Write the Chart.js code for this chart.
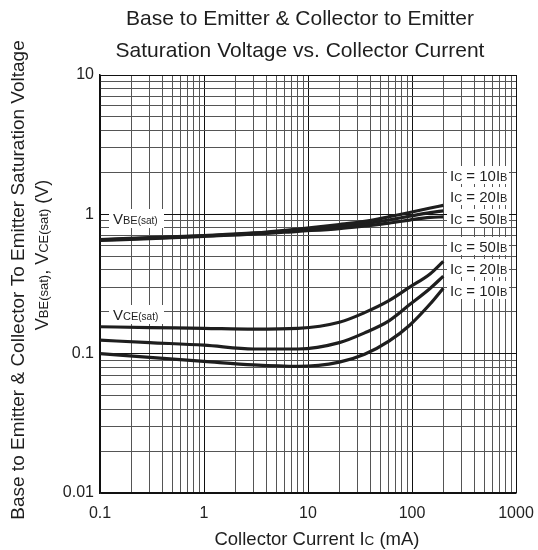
<!DOCTYPE html>
<html>
<head>
<meta charset="utf-8">
<script src="https://cdn.jsdelivr.net/npm/chart.js@4.4.0/dist/chart.umd.min.js"></script>
<style>
  html, body { margin: 0; padding: 0; background: #fff; }
  #wrap { width: 538px; height: 550px; position: relative; }
</style>
</head>
<body>
<div id="wrap"><canvas id="chart"></canvas></div>
<script>
    // collector current (mA) sample points shared by all curves
    const currents = [0.1, 0.3, 1, 3, 8, 20, 35, 60, 95, 150, 200];

    const vbe10 = [0.66, 0.68, 0.705, 0.735, 0.785, 0.845, 0.89, 0.96, 1.03, 1.11, 1.16];
    const vbe20 = [0.655, 0.675, 0.70, 0.73, 0.77, 0.815, 0.855, 0.91, 0.97, 1.03, 1.06];
    const vbe50 = [0.65, 0.67, 0.695, 0.72, 0.755, 0.79, 0.825, 0.865, 0.91, 0.95, 0.96];

    const vce50 = [0.156, 0.154, 0.152, 0.150, 0.152, 0.168, 0.197, 0.24, 0.30, 0.375, 0.46];
    const vce20 = [0.125, 0.12, 0.115, 0.108, 0.108, 0.12, 0.141, 0.172, 0.225, 0.295, 0.36];
    const vce10 = [0.10, 0.094, 0.088, 0.083, 0.081, 0.087, 0.099, 0.123, 0.16, 0.228, 0.295];

    const xTickValues = [0.1, 1, 10, 100, 1000];
    const xTickLabels = ['0.1', '1', '10', '100', '1000'];
    const yTickValues = [0.01, 0.1, 1, 10];
    const yTickLabels = ['0.01', '0.1', '1', '10'];

    const titleLines = ['Base to Emitter & Collector to Emitter', 'Saturation Voltage vs. Collector Current'];
    const rightLabels = ['10', '20', '50', '50', '20', '10'];

    const FONT = '"Liberation Sans", Arial, sans-serif';
    const INK = '#1e1e1e';

    function series(values) {
      return currents.map((c, i) => ({ x: c, y: values[i] }));
    }

    function logTicks(minExp, maxExp) {
      const t = [];
      for (let e = minExp; e < maxExp; e++) {
        for (let m = 1; m <= 9; m++) {
          t.push({ value: Number((m * Math.pow(10, e)).toPrecision(6)) });
        }
      }
      t.push({ value: Math.pow(10, maxExp) });
      return t;
    }

    function labelFor(v, values, labels) {
      for (let i = 0; i < values.length; i++) {
        if (Math.abs(Math.log10(v) - Math.log10(values[i])) < 1e-6) return labels[i];
      }
      return '';
    }

    function isDecade(v) {
      const l = Math.log10(v);
      return Math.abs(l - Math.round(l)) < 1e-6;
    }

    // draws text made of parts with different font sizes (for subscripts)
    function drawRich(ctx, parts, x, y, align) {
      let total = 0;
      parts.forEach(p => {
        ctx.font = p.s + 'px ' + FONT;
        p.w = ctx.measureText(p.t).width;
        total += p.w;
      });
      let cx = align === 'center' ? x - total / 2 : x;
      ctx.textAlign = 'left';
      ctx.textBaseline = 'alphabetic';
      parts.forEach(p => {
        ctx.font = p.s + 'px ' + FONT;
        ctx.fillText(p.t, cx, y + (p.dy || 0));
        cx += p.w;
      });
      return total;
    }

    function icParts(n) {
      return [{ t: 'I', s: 15 }, { t: 'C', s: 11 }, { t: ' = ' + n + 'I', s: 15 }, { t: 'B', s: 11 }];
    }

    const textPlugin = {
      id: 'texts',
      afterDatasetsDraw(chart) {
        const ctx = chart.ctx;
        ctx.save();

        // curve labels with white boxes
        ctx.fillStyle = '#fff';
        ctx.fillRect(109, 209, 55, 19);
        ctx.fillRect(109, 305, 55, 19);
        const ry = [175, 196, 218, 246, 268, 290];
        ry.forEach(y => ctx.fillRect(447, y - 9, 62, 18));
        ctx.fillStyle = INK;
        drawRich(ctx, [{ t: 'V', s: 15 }, { t: 'BE', s: 11 }, { t: '(sat)', s: 10 }], 113, 224, 'left');
        drawRich(ctx, [{ t: 'V', s: 15 }, { t: 'CE', s: 11 }, { t: '(sat)', s: 10 }], 113, 320, 'left');
        ry.forEach((y, i) => drawRich(ctx, icParts(rightLabels[i]), 450, y + 6, 'left'));

        // title
        ctx.font = '21px ' + FONT;
        ctx.textAlign = 'center';
        ctx.textBaseline = 'middle';
        ctx.fillText(titleLines[0], 300, 19);
        ctx.fillText(titleLines[1], 300, 51);

        // x axis title
        drawRich(ctx, [{ t: 'Collector Current I', s: 18.5 }, { t: 'C', s: 13.5 }, { t: ' (mA)', s: 18.5 }], 317, 545, 'center');

        // y axis titles (rotated)
        ctx.save();
        ctx.translate(24, 280);
        ctx.rotate(-Math.PI / 2);
        ctx.font = '19px ' + FONT;
        ctx.textAlign = 'center';
        ctx.textBaseline = 'alphabetic';
        ctx.fillText('Base to Emitter & Collector To Emitter Saturation Voltage', 0, 0);
        ctx.restore();

        ctx.save();
        ctx.translate(48, 255);
        ctx.rotate(-Math.PI / 2);
        drawRich(ctx, [
          { t: 'V', s: 18 }, { t: 'BE(sat)', s: 13 }, { t: ', V', s: 18 },
          { t: 'CE(sat)', s: 13 }, { t: ' (V)', s: 18 }
        ], 0, 0, 'center');
        ctx.restore();

        ctx.restore();
      }
    };

    function curve(values) {
      return {
        data: series(values),
        showLine: true,
        borderColor: INK,
        borderWidth: 3.2,
        pointRadius: 0,
        cubicInterpolationMode: 'monotone',
        fill: false
      };
    }

    new Chart(document.getElementById('chart'), {
      type: 'scatter',
      data: {
        datasets: [curve(vbe10), curve(vbe20), curve(vbe50), curve(vce50), curve(vce20), curve(vce10)]
      },
      options: {
        responsive: true,
        maintainAspectRatio: false,
        animation: false,
        devicePixelRatio: 1,
        layout: { padding: { top: 75, right: 22, left: 0, bottom: 0 } },
        plugins: { legend: { display: false }, tooltip: { enabled: false } },
        scales: {
          x: {
            type: 'logarithmic',
            min: 0.1,
            max: 1000,
            afterBuildTicks: s => { s.ticks = logTicks(-1, 3); },
            afterFit: s => { s.height = 57; s.paddingLeft = 0; s.paddingRight = 0; },
            ticks: {
              autoSkip: false,
              maxRotation: 0,
              padding: 11,
              color: '#222',
              font: { family: FONT, size: 16 },
              callback: v => labelFor(v, xTickValues, xTickLabels)
            },
            grid: {
              drawTicks: false,
              color: c => isDecade(c.tick.value) ? '#111' : '#555',
              lineWidth: 1
            },
            border: { color: '#111', width: 1.5 }
          },
          y: {
            type: 'logarithmic',
            min: 0.01,
            max: 10,
            afterBuildTicks: s => { s.ticks = logTicks(-2, 1); },
            afterFit: s => { s.width = 100; s.paddingTop = 0; s.paddingBottom = 0; },
            ticks: {
              autoSkip: false,
              padding: 6,
              color: '#222',
              font: { family: FONT, size: 16 },
              callback: v => labelFor(v, yTickValues, yTickLabels)
            },
            grid: {
              drawTicks: false,
              color: c => isDecade(c.tick.value) ? '#111' : '#555',
              lineWidth: 1
            },
            border: { color: '#111', width: 1.5 }
          }
        }
      },
      plugins: [textPlugin]
    });
</script>
</body>
</html>
